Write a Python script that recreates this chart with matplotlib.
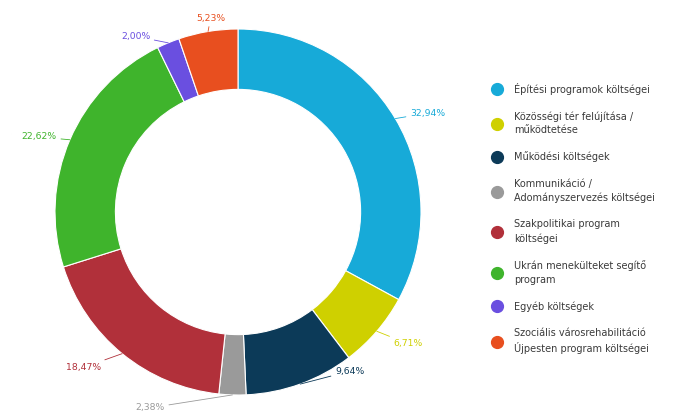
import numpy as np
import matplotlib.pyplot as plt
from matplotlib.lines import Line2D

labels = ["Építési programok költségei",
          "Közösségi tér felújítása /\nműködtetése",
          "Működési költségek",
          "Kommunikáció /\nAdományszervezés költségei",
          "Szakpolitikai program\nköltségei",
          "Ukrán menekülteket segítő\nprogram",
          "Egyéb költségek",
          "Szociális városrehabilitáció\nÚjpesten program költségei"]
values = [32.94, 6.71, 9.64, 2.38, 18.47, 22.62, 2.00, 5.23]
value_text = ["32,94%", "6,71%", "9,64%", "2,38%", "18,47%", "22,62%", "2,00%", "5,23%"]
colors = ["#17aad8", "#cfd000", "#0c3a58", "#9a9a9a", "#b1303a", "#3fb42c", "#6a4fe0", "#e84f1f"]

# layout: label text anchor (axis units, radius 1 = outer edge) and alignment
label_pos = [(0.94, 0.54, "left"), (0.85, -0.72, "left"), (0.53, -0.87, "left"),
             (-0.40, -1.07, "right"), (-0.75, -0.85, "right"), (-0.99, 0.41, "right"),
             (-0.48, 0.96, "right"), (-0.15, 1.06, "center")]

fig = plt.figure(figsize=(6.95, 4.19), dpi=100)
R = 183.0
half = 1.15
size_px = 2 * half * R
cx, cy = 238, 419 - 212
ax = fig.add_axes([(cx - size_px / 2) / 695, (cy - size_px / 2) / 419, size_px / 695, size_px / 419])
wedges, _ = ax.pie(values, colors=colors, startangle=90, counterclock=False,
                   wedgeprops=dict(width=0.33, edgecolor="white", linewidth=0.8))
ax.set_xlim(-half, half)
ax.set_ylim(-half, half)
ax.set_aspect("equal")
ax.axis("off")

for w, t, c, (tx, ty, ha) in zip(wedges, value_text, colors, label_pos):
    ang = np.deg2rad((w.theta1 + w.theta2) / 2)
    x, y = np.cos(ang), np.sin(ang)
    ax.annotate(t, xy=(1.0 * x, 1.0 * y), xytext=(tx, ty), ha=ha, va="center",
                fontsize=6.7, color=c,
                arrowprops=dict(arrowstyle="-", color=c, lw=0.6, shrinkA=1, shrinkB=0))

handles = [Line2D([0], [0], marker="o", linestyle="", markersize=8.5,
                  markerfacecolor=c, markeredgecolor=c) for c in colors]
leg = fig.legend(handles, labels, loc="upper left", bbox_to_anchor=(482 / 695, 1 - 74 / 419),
                 frameon=False, fontsize=7, labelspacing=1.68, handletextpad=1.2,
                 handlelength=1.2, labelcolor="#3a3a3a")
for t in leg.get_texts():
    t.set_linespacing(1.45)
fig.savefig("out.png", dpi=100, facecolor="white")
